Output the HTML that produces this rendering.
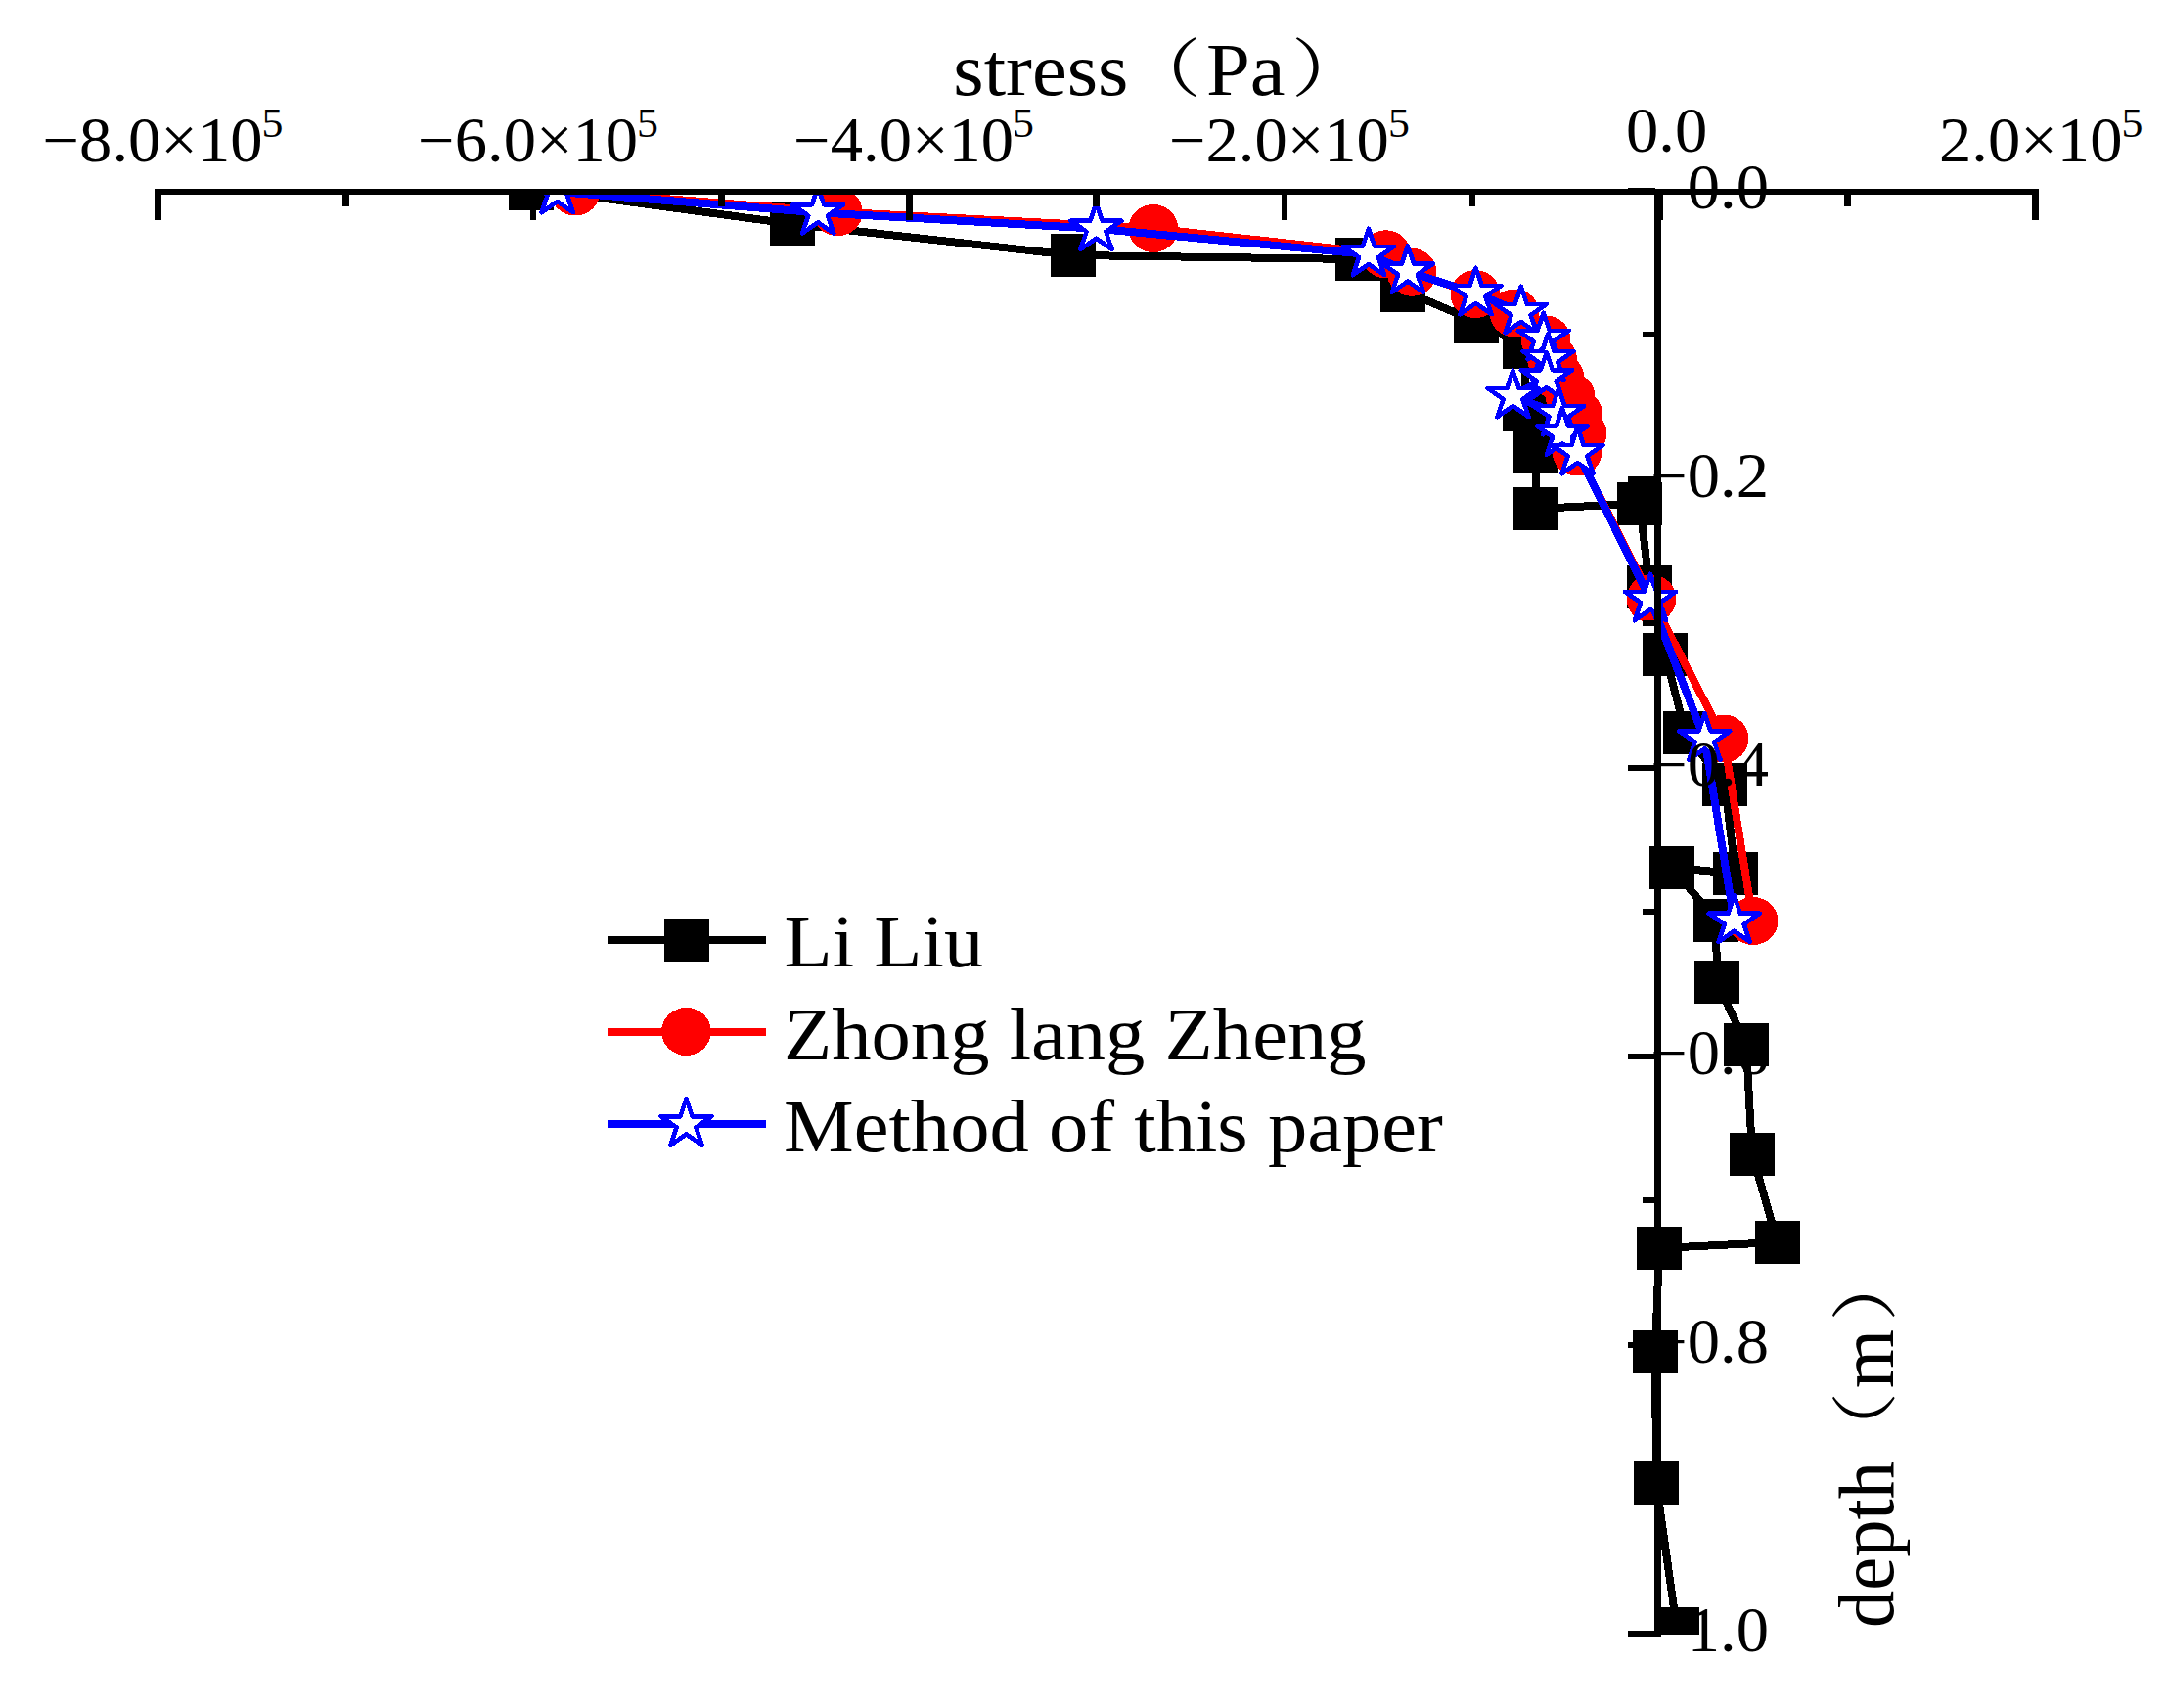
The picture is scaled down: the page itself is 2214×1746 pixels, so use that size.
<!DOCTYPE html>
<html><head><meta charset="utf-8"><title>stress vs depth</title>
<style>html,body{margin:0;padding:0;background:#fff}svg{display:block}text{font-family:"Liberation Serif","Noto Serif CJK SC",serif;fill:#000}</style></head><body>
<svg width="2214" height="1746" viewBox="0 0 2214 1746">
<rect width="2214" height="1746" fill="#fff"/>
<defs><clipPath id="c"><rect x="158" y="196" width="1926" height="1475"/></clipPath></defs>
<g clip-path="url(#c)" shape-rendering="crispEdges">
<polyline points="543.0,192.7 810.0,229.0 1097.0,261.0 1388.0,265.0 1433.5,296.7 1509.0,328.7 1559.0,354.6 1559.0,419.0 1570.0,461.7 1570.0,520.0 1676.0,514.6 1686.0,600.0 1702.0,669.0 1723.0,749.0 1763.0,802.0 1774.0,893.0 1709.0,886.8 1754.0,940.5 1755.0,1004.0 1785.0,1068.0 1791.0,1180.0 1817.0,1270.0 1696.0,1276.0 1692.0,1382.0 1693.0,1516.0 1714.0,1665.0" fill="none" stroke="#000" stroke-width="8" stroke-linejoin="round"/>
<rect x="520.0" y="170.7" width="46" height="44" fill="#000"/>
<rect x="787.0" y="207.0" width="46" height="44" fill="#000"/>
<rect x="1074.0" y="239.0" width="46" height="44" fill="#000"/>
<rect x="1365.0" y="243.0" width="46" height="44" fill="#000"/>
<rect x="1410.5" y="274.7" width="46" height="44" fill="#000"/>
<rect x="1486.0" y="306.7" width="46" height="44" fill="#000"/>
<rect x="1536.0" y="332.6" width="46" height="44" fill="#000"/>
<rect x="1536.0" y="397.0" width="46" height="44" fill="#000"/>
<rect x="1547.0" y="439.7" width="46" height="44" fill="#000"/>
<rect x="1547.0" y="498.0" width="46" height="44" fill="#000"/>
<rect x="1653.0" y="492.6" width="46" height="44" fill="#000"/>
<rect x="1663.0" y="578.0" width="46" height="44" fill="#000"/>
<rect x="1679.0" y="647.0" width="46" height="44" fill="#000"/>
<rect x="1700.0" y="727.0" width="46" height="44" fill="#000"/>
<rect x="1740.0" y="780.0" width="46" height="44" fill="#000"/>
<rect x="1751.0" y="871.0" width="46" height="44" fill="#000"/>
<rect x="1686.0" y="864.8" width="46" height="44" fill="#000"/>
<rect x="1731.0" y="918.5" width="46" height="44" fill="#000"/>
<rect x="1732.0" y="982.0" width="46" height="44" fill="#000"/>
<rect x="1762.0" y="1046.0" width="46" height="44" fill="#000"/>
<rect x="1768.0" y="1158.0" width="46" height="44" fill="#000"/>
<rect x="1794.0" y="1248.0" width="46" height="44" fill="#000"/>
<rect x="1673.0" y="1254.0" width="46" height="44" fill="#000"/>
<rect x="1669.0" y="1360.0" width="46" height="44" fill="#000"/>
<rect x="1670.0" y="1494.0" width="46" height="44" fill="#000"/>
<rect x="1691.0" y="1643.0" width="46" height="44" fill="#000"/>
<polyline points="588.0,196.0 856.3,216.7 1178.8,233.5 1416.5,259.8 1443.0,278.3 1508.0,300.6 1548.0,320.0 1580.0,347.0 1586.5,367.0 1594.0,386.0 1605.0,405.0 1612.5,423.0 1617.0,443.0 1612.0,462.0 1688.0,612.0 1762.0,755.0 1792.0,941.5" fill="none" stroke="#f00" stroke-width="8" stroke-linejoin="round"/>
<ellipse cx="588.0" cy="196.0" rx="25.4" ry="24.5" fill="#f00"/>
<ellipse cx="856.3" cy="216.7" rx="25.4" ry="24.5" fill="#f00"/>
<ellipse cx="1178.8" cy="233.5" rx="25.4" ry="24.5" fill="#f00"/>
<ellipse cx="1416.5" cy="259.8" rx="25.4" ry="24.5" fill="#f00"/>
<ellipse cx="1443.0" cy="278.3" rx="25.4" ry="24.5" fill="#f00"/>
<ellipse cx="1508.0" cy="300.6" rx="25.4" ry="24.5" fill="#f00"/>
<ellipse cx="1548.0" cy="320.0" rx="25.4" ry="24.5" fill="#f00"/>
<ellipse cx="1580.0" cy="347.0" rx="25.4" ry="24.5" fill="#f00"/>
<ellipse cx="1586.5" cy="367.0" rx="25.4" ry="24.5" fill="#f00"/>
<ellipse cx="1594.0" cy="386.0" rx="25.4" ry="24.5" fill="#f00"/>
<ellipse cx="1605.0" cy="405.0" rx="25.4" ry="24.5" fill="#f00"/>
<ellipse cx="1612.5" cy="423.0" rx="25.4" ry="24.5" fill="#f00"/>
<ellipse cx="1617.0" cy="443.0" rx="25.4" ry="24.5" fill="#f00"/>
<ellipse cx="1612.0" cy="462.0" rx="25.4" ry="24.5" fill="#f00"/>
<ellipse cx="1688.0" cy="612.0" rx="25.4" ry="24.5" fill="#f00"/>
<ellipse cx="1762.0" cy="755.0" rx="25.4" ry="24.5" fill="#f00"/>
<ellipse cx="1792.0" cy="941.5" rx="25.4" ry="24.5" fill="#f00"/>
<polyline points="569.7,196.0 836.1,217.3 1120.5,233.7 1399.0,260.0 1439.0,277.5 1508.5,300.0 1554.7,319.0 1577.7,346.0 1582.5,367.0 1580.8,386.3 1546.5,405.0 1593.3,423.0 1597.0,443.5 1612.5,463.0 1687.0,613.0 1742.4,755.5 1772.7,941.7" fill="none" stroke="#00f" stroke-width="8" stroke-linejoin="round"/>
<polygon points="569.7,169.8 575.8,187.9 595.7,187.9 579.6,199.1 585.8,217.2 569.7,206.0 553.6,217.2 559.8,199.1 543.7,187.9 563.6,187.9" fill="#fff" stroke="#00f" stroke-width="4.6" stroke-linejoin="round"/>
<polygon points="836.1,191.1 842.2,209.2 862.1,209.2 846.0,220.4 852.2,238.5 836.1,227.3 820.0,238.5 826.2,220.4 810.1,209.2 830.0,209.2" fill="#fff" stroke="#00f" stroke-width="4.6" stroke-linejoin="round"/>
<polygon points="1120.5,207.5 1126.6,225.6 1146.5,225.6 1130.4,236.8 1136.6,254.9 1120.5,243.7 1104.4,254.9 1110.6,236.8 1094.5,225.6 1114.4,225.6" fill="#fff" stroke="#00f" stroke-width="4.6" stroke-linejoin="round"/>
<polygon points="1399.0,233.8 1405.1,251.9 1425.0,251.9 1408.9,263.1 1415.1,281.2 1399.0,270.0 1382.9,281.2 1389.1,263.1 1373.0,251.9 1392.9,251.9" fill="#fff" stroke="#00f" stroke-width="4.6" stroke-linejoin="round"/>
<polygon points="1439.0,251.3 1445.1,269.4 1465.0,269.4 1448.9,280.6 1455.1,298.7 1439.0,287.5 1422.9,298.7 1429.1,280.6 1413.0,269.4 1432.9,269.4" fill="#fff" stroke="#00f" stroke-width="4.6" stroke-linejoin="round"/>
<polygon points="1508.5,273.8 1514.6,291.9 1534.5,291.9 1518.4,303.1 1524.6,321.2 1508.5,310.0 1492.4,321.2 1498.6,303.1 1482.5,291.9 1502.4,291.9" fill="#fff" stroke="#00f" stroke-width="4.6" stroke-linejoin="round"/>
<polygon points="1554.7,292.8 1560.8,310.9 1580.7,310.9 1564.6,322.1 1570.8,340.2 1554.7,329.0 1538.6,340.2 1544.8,322.1 1528.7,310.9 1548.6,310.9" fill="#fff" stroke="#00f" stroke-width="4.6" stroke-linejoin="round"/>
<polygon points="1577.7,319.8 1583.8,337.9 1603.7,337.9 1587.6,349.1 1593.8,367.2 1577.7,356.0 1561.6,367.2 1567.8,349.1 1551.7,337.9 1571.6,337.9" fill="#fff" stroke="#00f" stroke-width="4.6" stroke-linejoin="round"/>
<polygon points="1582.5,340.8 1588.6,358.9 1608.5,358.9 1592.4,370.1 1598.6,388.2 1582.5,377.0 1566.4,388.2 1572.6,370.1 1556.5,358.9 1576.4,358.9" fill="#fff" stroke="#00f" stroke-width="4.6" stroke-linejoin="round"/>
<polygon points="1580.8,360.1 1586.9,378.2 1606.8,378.2 1590.7,389.4 1596.9,407.5 1580.8,396.3 1564.7,407.5 1570.9,389.4 1554.8,378.2 1574.7,378.2" fill="#fff" stroke="#00f" stroke-width="4.6" stroke-linejoin="round"/>
<polygon points="1546.5,378.8 1552.6,396.9 1572.5,396.9 1556.4,408.1 1562.6,426.2 1546.5,415.0 1530.4,426.2 1536.6,408.1 1520.5,396.9 1540.4,396.9" fill="#fff" stroke="#00f" stroke-width="4.6" stroke-linejoin="round"/>
<polygon points="1593.3,396.8 1599.4,414.9 1619.3,414.9 1603.2,426.1 1609.4,444.2 1593.3,433.0 1577.2,444.2 1583.4,426.1 1567.3,414.9 1587.2,414.9" fill="#fff" stroke="#00f" stroke-width="4.6" stroke-linejoin="round"/>
<polygon points="1597.0,417.3 1603.1,435.4 1623.0,435.4 1606.9,446.6 1613.1,464.7 1597.0,453.5 1580.9,464.7 1587.1,446.6 1571.0,435.4 1590.9,435.4" fill="#fff" stroke="#00f" stroke-width="4.6" stroke-linejoin="round"/>
<polygon points="1612.5,436.8 1618.6,454.9 1638.5,454.9 1622.4,466.1 1628.6,484.2 1612.5,473.0 1596.4,484.2 1602.6,466.1 1586.5,454.9 1606.4,454.9" fill="#fff" stroke="#00f" stroke-width="4.6" stroke-linejoin="round"/>
<polygon points="1687.0,586.8 1693.1,604.9 1713.0,604.9 1696.9,616.1 1703.1,634.2 1687.0,623.0 1670.9,634.2 1677.1,616.1 1661.0,604.9 1680.9,604.9" fill="#fff" stroke="#00f" stroke-width="4.6" stroke-linejoin="round"/>
<polygon points="1742.4,729.3 1748.5,747.4 1768.4,747.4 1752.3,758.6 1758.5,776.7 1742.4,765.5 1726.3,776.7 1732.5,758.6 1716.4,747.4 1736.3,747.4" fill="#fff" stroke="#00f" stroke-width="4.6" stroke-linejoin="round"/>
<polygon points="1772.7,915.5 1778.8,933.6 1798.7,933.6 1782.6,944.8 1788.8,962.9 1772.7,951.7 1756.6,962.9 1762.8,944.8 1746.7,933.6 1766.6,933.6" fill="#fff" stroke="#00f" stroke-width="4.6" stroke-linejoin="round"/>
</g>
<g fill="#000" shape-rendering="crispEdges">
<rect x="158" y="193" width="1926" height="6"/>
<rect x="1691" y="193" width="7" height="1480"/>
<rect x="158.1" y="193" width="6.8" height="32"/>
<rect x="541.6" y="193" width="6.8" height="32"/>
<rect x="925.8" y="193" width="6.8" height="32"/>
<rect x="1309.6" y="193" width="6.8" height="32"/>
<rect x="1693.2" y="193" width="6.8" height="32"/>
<rect x="2077.1" y="193" width="6.8" height="32"/>
<rect x="350.0" y="193" width="6.8" height="17.8"/>
<rect x="734.0" y="193" width="6.8" height="17.8"/>
<rect x="1117.2" y="193" width="6.8" height="17.8"/>
<rect x="1501.6" y="193" width="6.8" height="17.8"/>
<rect x="1885.1" y="193" width="6.8" height="17.8"/>
<rect x="1664" y="192.0" width="28" height="6"/>
<rect x="1664" y="486.6" width="28" height="6"/>
<rect x="1664" y="781.6" width="28" height="6"/>
<rect x="1664" y="1076.7" width="28" height="6"/>
<rect x="1664" y="1371.7" width="28" height="6"/>
<rect x="1664" y="1666.7" width="28" height="6"/>
<rect x="1679" y="339.1" width="13" height="6"/>
<rect x="1679" y="634.1" width="13" height="6"/>
<rect x="1679" y="929.1" width="13" height="6"/>
<rect x="1679" y="1224.2" width="13" height="6"/>
<rect x="1679" y="1519.2" width="13" height="6"/>
</g>
<g shape-rendering="crispEdges">
<line x1="621" y1="961" x2="783" y2="961" stroke="#000" stroke-width="8"/>
<rect x="679" y="939" width="46" height="44" fill="#000"/>
<line x1="621" y1="1055" x2="783" y2="1055" stroke="#f00" stroke-width="8"/>
<ellipse cx="701.5" cy="1054.5" rx="25.4" ry="24.5" fill="#f00"/>
<line x1="621" y1="1149" x2="783" y2="1149" stroke="#00f" stroke-width="8"/>
<polygon points="701.5,1123.2 707.6,1141.3 727.5,1141.3 711.4,1152.5 717.6,1170.6 701.5,1159.4 685.4,1170.6 691.6,1152.5 675.5,1141.3 695.4,1141.3" fill="#fff" stroke="#00f" stroke-width="4.6" stroke-linejoin="round"/>
</g>
<text transform="translate(801.5,988.1) scale(1.047,1)" font-size="77.0">Li Liu</text>
<text transform="translate(801.0,1082.8) scale(1.047,1)" font-size="77.0">Zhong lang Zheng</text>
<text transform="translate(801.0,1176.6) scale(1.047,1)" font-size="77.0">Method of this paper</text>
<text transform="translate(974.3,96.6) scale(1.047,1)" font-size="77.0">stress</text>
<text transform="translate(1232.9,96.6) scale(1.047,1)" font-size="77.0">Pa</text>
<text transform="translate(1148,92.9) scale(1.230,1)" font-size="65">（</text>
<text transform="translate(1319.8,92.9) scale(1.230,1)" font-size="65">）</text>
<text transform="translate(43.5,165.2) scale(1.033,1)" font-size="64.5">−8.0×10<tspan dy="-25.5" dx="-1" font-size="42.5">5</tspan></text>
<text transform="translate(427.1,165.2) scale(1.033,1)" font-size="64.5">−6.0×10<tspan dy="-25.5" dx="-1" font-size="42.5">5</tspan></text>
<text transform="translate(811.1,165.2) scale(1.033,1)" font-size="64.5">−4.0×10<tspan dy="-25.5" dx="-1" font-size="42.5">5</tspan></text>
<text transform="translate(1194.9,165.2) scale(1.033,1)" font-size="64.5">−2.0×10<tspan dy="-25.5" dx="-1" font-size="42.5">5</tspan></text>
<text transform="translate(1662.0,155.2) scale(1.033,1)" font-size="64.5">0.0</text>
<text transform="translate(1982.0,165.2) scale(1.033,1)" font-size="64.5">2.0×10<tspan dy="-25.5" dx="-1" font-size="42.5">5</tspan></text>
<text transform="translate(1808.0,213.2) scale(1.033,1)" font-size="64.5" text-anchor="end">0.0</text>
<text transform="translate(1808.0,507.9) scale(1.033,1)" font-size="64.5" text-anchor="end">−0.2</text>
<text transform="translate(1808.0,802.9) scale(1.033,1)" font-size="64.5" text-anchor="end">−0.4</text>
<text transform="translate(1808.0,1098.0) scale(1.033,1)" font-size="64.5" text-anchor="end">−0.6</text>
<text transform="translate(1808.0,1393.0) scale(1.033,1)" font-size="64.5" text-anchor="end">−0.8</text>
<text transform="translate(1808.0,1688.0) scale(1.033,1)" font-size="64.5" text-anchor="end">1.0</text>
<text transform="translate(1934.6,1664) scale(1.047,1) rotate(-90)" font-size="76.5">depth</text>
<text transform="translate(1934.6,1419) scale(1.047,1) rotate(-90)" font-size="77">m</text>
<text transform="translate(1931.4,1499.3) scale(1.047,1) rotate(-90) scale(1.175,1)" font-size="65">（</text>
<text transform="translate(1931.4,1350.8) scale(1.047,1) rotate(-90) scale(1.175,1)" font-size="65">）</text>
</svg></body></html>
